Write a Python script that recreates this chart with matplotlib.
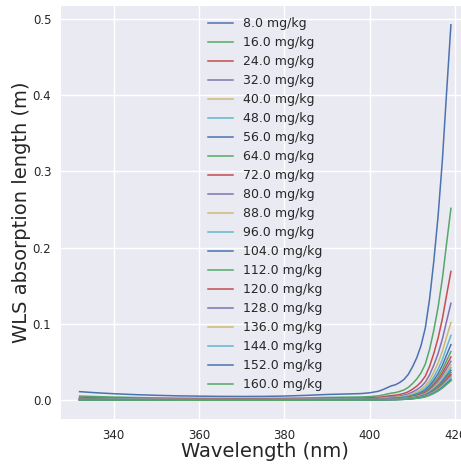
import numpy as np
import matplotlib
matplotlib.use("Agg")
import matplotlib.pyplot as plt

# wavelength samples (nm) and absorption length for the 8 mg/kg curve (m)
wavelength = [332, 336, 340, 345, 350, 355, 360, 365, 370, 375, 380, 385,
              390, 395, 398, 400, 402, 403, 404, 405, 406, 407, 408, 409,
              410, 411, 412, 413, 414, 415, 416, 417, 418, 419]
length_8 = [0.0115, 0.0100, 0.0088, 0.0076, 0.0067, 0.0060, 0.0056, 0.0053,
            0.0052, 0.0053, 0.0057, 0.0066, 0.0078, 0.0085, 0.0090, 0.0100,
            0.0120, 0.0140, 0.0165, 0.0190, 0.0205, 0.0235, 0.0275, 0.0340,
            0.0440, 0.0560, 0.0720, 0.0950, 0.1330, 0.1830, 0.2420, 0.3150,
            0.4050, 0.4920]
concentrations = [8.0, 16.0, 24.0, 32.0, 40.0, 48.0, 56.0, 64.0, 72.0, 80.0,
                  88.0, 96.0, 104.0, 112.0, 120.0, 128.0, 136.0, 144.0,
                  152.0, 160.0]
background = 0.09  # 1/m, absorption not due to the shifter

colors = ['#4C72B0', '#55A868', '#C44E52', '#8172B2', '#CCB974', '#64B5CD']

plt.rcParams['font.family'] = ['DejaVu Sans']
plt.rcParams['text.color'] = '.15'
plt.rcParams['axes.labelcolor'] = '.15'
plt.rcParams['xtick.color'] = '.15'
plt.rcParams['ytick.color'] = '.15'

fig = plt.figure(figsize=(4.61, 4.66), dpi=100)
ax = fig.add_axes([61/461, 47/466, 408.5/461, 413/466])
ax.set_facecolor('#EAEAF2')
ax.grid(True, color='white', linewidth=1.0)
ax.set_axisbelow(True)
for s in ax.spines.values():
    s.set_visible(False)

wl = np.array(wavelength)
mu8 = 1.0/np.array(length_8) - background
for i, c in enumerate(concentrations):
    L = 1.0/(mu8*c/8.0 + background)
    ax.plot(wl, L, color=colors[i % 6], lw=1.1, label='%.1f mg/kg' % c)

ax.margins(x=0.05, y=0.05)
ax.set_xticks([340, 360, 380, 400, 420])
ax.set_yticks([0.0, 0.1, 0.2, 0.3, 0.4, 0.5])
ax.tick_params(length=0, pad=7, labelsize=8.5)
ax.set_xlabel('Wavelength (nm)', fontsize=14, labelpad=0)
ax.set_ylabel('WLS absorption length (m)', fontsize=14, labelpad=1)

ax.legend(loc='upper center', frameon=False, fontsize=9, labelspacing=0.48)

fig.savefig('out.png', dpi=100)
